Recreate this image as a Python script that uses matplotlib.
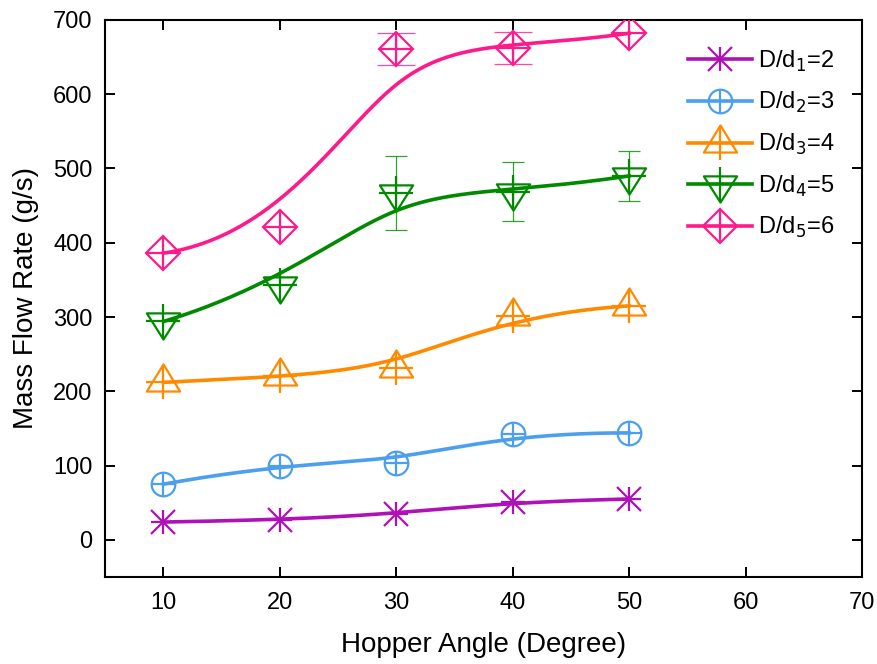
import numpy as np
import matplotlib
matplotlib.use('Agg')
import matplotlib.pyplot as plt
from matplotlib.path import Path

plt.rcParams['font.family'] = ['Liberation Sans', 'DejaVu Sans']

# hopper angle (degree)
angles = [10, 20, 30, 40, 50]

# mass flow rate (g/s) per diameter ratio
flow_d1 = [24, 27, 35, 51, 55]
flow_d2 = [75, 100, 104, 142, 144]
flow_d3 = [212, 220, 232, 302, 315]
flow_d4 = [294, 343, 467, 469, 490]
flow_d5 = [386, 421, 661, 662, 682]

# error bars (only the visible ones)
err4_x = [30, 40, 50]
err4_y = [467, 469, 490]
err4 = [50, 40, 34]
err5_x = [30, 40]
err5_y = [661, 662]
err5 = [22, 22]

labels = ['D/d$_1$=2', 'D/d$_2$=3', 'D/d$_3$=4', 'D/d$_4$=5', 'D/d$_5$=6']
colors = ['#B010B8', '#4C9FEF', '#FF8A00', '#008A00', '#FF1A8C']

tri_up = Path([(0, 1), (-0.92, -0.5), (0.92, -0.5), (0, 1)], closed=True)
tri_dn = Path([(0, -1), (-0.92, 0.45), (0.92, 0.45), (0, -1)], closed=True)
markers = ['x', 'o', tri_up, tri_dn, 'D']
msizes = [17, 17, 26, 26, 17]
plus_sizes = [17, 17, 25, 25, 23]


def basis(t, k, m):
    # clamped B-spline basis of degree k for m control points
    inner = list(range(1, m - k))
    knots = np.array([0] * (k + 1) + inner + [m - k] * (k + 1), dtype=float)
    t = np.minimum(np.asarray(t, float), m - k - 1e-9)
    N = np.zeros((len(t), len(knots) - 1))
    for i in range(len(knots) - 1):
        N[:, i] = (t >= knots[i]) & (t < knots[i + 1])
    for d in range(1, k + 1):
        Nn = np.zeros((len(t), len(knots) - 1 - d))
        for i in range(len(knots) - 1 - d):
            a = knots[i + d] - knots[i]
            b = knots[i + d + 1] - knots[i + 1]
            left = (t - knots[i]) / a * N[:, i] if a > 0 else 0
            right = (knots[i + d + 1] - t) / b * N[:, i + 1] if b > 0 else 0
            Nn[:, i] = left + right
        N = Nn
    return N, knots


def smooth(px, py, k=3, pull=0.5, n=300):
    # cubic b-spline, control points pulled a bit toward the data
    m = len(px)
    py = np.asarray(py, float)
    _, knots = basis([0], k, m)
    grev = [knots[i + 1:i + k + 1].mean() for i in range(m)]
    B, _ = basis(grev, k, m)
    cy = py + pull * (py - B @ py)
    N, _ = basis(np.linspace(0, m - k, n), k, m)
    return N @ np.asarray(px, float), N @ cy


fig = plt.figure(figsize=(8.77, 6.64), dpi=100)
ax = fig.add_axes([0.12, 0.131, 0.863, 0.839])

series = [flow_d1, flow_d2, flow_d3, flow_d4, flow_d5]
handles = []
for ys, c, mk, ms, ps in zip(series, colors, markers, msizes, plus_sizes):
    sx, sy = smooth(angles, ys)
    ln, = ax.plot(sx, sy, color=c, lw=2.6, zorder=3)
    mkl, = ax.plot(angles, ys, ls='none', marker=mk, ms=ms, mfc='none',
                   mec=c, mew=1.6, zorder=4)
    pl, = ax.plot(angles, ys, ls='none', marker='+', ms=ps,
                  mec=c, mew=1.6, zorder=4)
    handles.append((ln, mkl, pl))

ax.errorbar(err4_x, err4_y, yerr=err4, fmt='none', ecolor=colors[3],
            elinewidth=0.9, capsize=8, capthick=0.9, alpha=0.8, zorder=2)
ax.errorbar(err5_x, err5_y, yerr=err5, fmt='none', ecolor=colors[4],
            elinewidth=0.9, capsize=14, capthick=0.9, alpha=0.8, zorder=2)

ax.set_xlim(5, 70)
ax.set_ylim(-50, 700)
ax.set_xticks(range(10, 71, 10))
ax.set_yticks(range(0, 701, 100))
ax.tick_params(direction='in', length=7, width=1.4, labelsize=17,
               top=True, right=True)
ax.tick_params(axis='x', pad=11)
ax.tick_params(axis='y', pad=9)
for s in ax.spines.values():
    s.set_linewidth(1.5)

ax.set_xlabel('Hopper Angle (Degree)', fontsize=20, labelpad=13)
ax.set_ylabel('Mass Flow Rate (g/s)', fontsize=20, labelpad=10)

ax.legend(handles, labels, loc='upper left', bbox_to_anchor=(0.770, 0.949),
          frameon=False, fontsize=17, handlelength=2.7, handletextpad=0.25,
          labelspacing=0.7, numpoints=1, borderaxespad=0, borderpad=0)

fig.savefig('out.png', dpi=100)
